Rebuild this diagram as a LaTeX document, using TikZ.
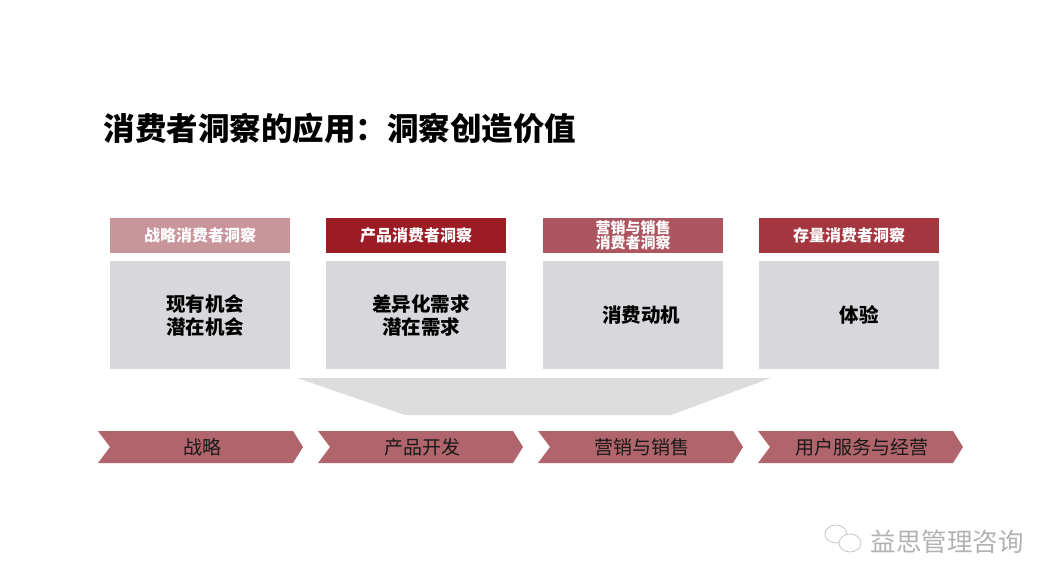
\documentclass[tikz,border=0pt]{standalone}
\usepackage{fontspec}
\setmainfont{Noto Sans CJK SC}
\usetikzlibrary{positioning}

\definecolor{hdA}{HTML}{C8959A}
\definecolor{hdB}{HTML}{9C1C26}
\definecolor{hdC}{HTML}{AD5560}
\definecolor{hdD}{HTML}{A3363F}
\definecolor{boxgray}{HTML}{D8D8DC}
\definecolor{trapgray}{HTML}{DDDDDD}
\definecolor{chevred}{HTML}{B0646B}

\begin{document}
\begin{tikzpicture}[x=1pt,y=-1pt,
  head/.style={minimum width=180pt,minimum height=35pt,inner sep=0pt,text=white,
    font=\fontsize{16}{16}\selectfont\bfseries,align=center},
  body/.style={fill=boxgray,minimum width=180pt,minimum height=108pt,inner sep=0pt,
    font=\fontsize{19.5}{23}\selectfont\bfseries,align=center},
  chev/.style={fill=chevred},
  chevtext/.style={font=\fontsize{19}{19}\selectfont,text=black!90}]
  \useasboundingbox (0,0) rectangle (1062,588);

  % title
  \node[anchor=west,font=\fontsize{31.5}{31.5}\selectfont\bfseries] (title) at (100,128) {消费者洞察的应用：洞察创造价值};

  % insight headers and boxes
  \node[head,fill=hdA] (h1) at (200,235.5) {战略消费者洞察};
  \node[head,fill=hdB] (h2) at (416,235.5) {产品消费者洞察};
  \node[head,fill=hdC,font=\fontsize{15}{13.5}\selectfont\bfseries] (h3) at (633,235.5) {营销与销售\\消费者洞察};
  \node[head,fill=hdD] (h4) at (849,235.5) {存量消费者洞察};

  \node[body] (b1) [below=8pt of h1] {\hspace*{10pt}现有机会\\\hspace*{10pt}潜在机会};
  \node[body] (b2) [below=8pt of h2] {\hspace*{10pt}差异化需求\\\hspace*{10pt}潜在需求};
  \node[body] (b3) [below=8pt of h3] {\hspace*{16pt}消费动机};
  \node[body] (b4) [below=8pt of h4] {\hspace*{20pt}体验};

  % funnel
  \fill[trapgray] (297,378) -- (771,378) -- (671,415) -- (405,415) -- cycle;

  % value chain
  \foreach \x/\t [count=\i] in {98/战略, 318/产品开发, 538/营销与销售, 758/用户服务与经营} {
    \fill[chev] (\x,431) -- (\x+195,431) -- (\x+205,447) -- (\x+195,463)
      -- (\x,463) -- (\x+12,447) -- cycle;
    \node[chevtext] (c\i) at (\x+104,447) {\t};
  }

  % watermark
  \draw[gray!45,line width=0.8pt] (836,534) ellipse (11pt and 9pt);
  \draw[gray!45,line width=0.8pt,fill=white] (850,543) ellipse (11pt and 9pt);
  \node[anchor=west,text=gray!60,font=\fontsize{25.5}{25.5}\selectfont] (mark) at (867,542) {益思管理咨询};
\end{tikzpicture}
\end{document}
